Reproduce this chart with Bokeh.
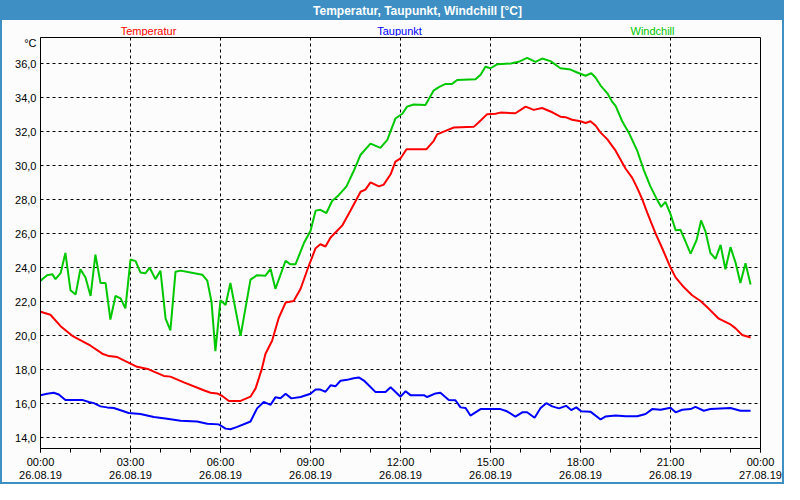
from bokeh.plotting import figure
from bokeh.layouts import column
from bokeh.models import FixedTicker, Range1d
from bokeh.core.properties import value
from bokeh.embed import file_html
from bokeh.resources import INLINE

# ---- data (hours since 26.08.19 00:00, °C) ----
temp_h = [0, 0.33, 0.67, 1.06, 1.67, 2.06, 2.28, 2.56, 3.0, 3.22, 3.61, 3.78, 4.11, 4.33, 4.78,
          5.44, 5.67, 5.89, 6.06, 6.28, 6.67, 7.0, 7.17, 7.37, 7.5, 7.72, 7.94, 8.17, 8.44, 8.67,
          8.94, 9.17, 9.33, 9.5, 9.67, 9.89, 10.06, 10.33, 10.67, 10.83, 11.0, 11.28, 11.44, 11.67,
          11.83, 12.0, 12.2, 12.86, 13.11, 13.22, 13.56, 13.78, 14.44, 14.61, 14.89, 15.17, 15.33,
          15.83, 16.17, 16.44, 16.72, 17.06, 17.33, 17.5, 17.72, 18.0, 18.17, 18.33, 18.5, 18.67,
          18.89, 19.17, 19.5, 19.72, 19.89, 20.06, 20.22, 20.5, 20.72, 21.0, 21.17, 21.44, 21.72,
          22.0, 22.28, 22.61, 23.0, 23.17, 23.39, 23.67]
temp_v = [21.41, 21.23, 20.56, 19.99, 19.41, 18.94, 18.80, 18.74, 18.36, 18.17, 18.02, 17.88, 17.63,
          17.59, 17.25, 16.79, 16.64, 16.60, 16.45, 16.16, 16.16, 16.41, 16.9, 18.0, 18.94, 19.70,
          21.04, 21.95, 22.04, 22.76, 24.10, 25.15, 25.38, 25.25, 25.78, 26.18, 26.49, 27.35, 28.47,
          28.60, 29.02, 28.79, 28.89, 29.50, 30.25, 30.43, 30.97, 30.97, 31.47, 31.85, 32.10, 32.25,
          32.29, 32.56, 33.04, 33.06, 33.13, 33.09, 33.48, 33.29, 33.40, 33.15, 32.89, 32.86, 32.71,
          32.62, 32.52, 32.62, 32.37, 31.95, 31.57, 30.89, 29.84, 29.30, 28.70, 28.02, 27.26, 26.02,
          25.16, 24.01, 23.43, 22.86, 22.38, 22.04, 21.58, 21.00, 20.66, 20.43, 20.04, 19.89]

dew_h = [0, 0.22, 0.44, 0.61, 0.83, 1.39, 1.61, 1.78, 2.0, 2.22, 2.44, 2.72, 2.94, 3.33, 3.78, 4.22,
         4.67, 5.22, 5.56, 5.94, 6.17, 6.33, 6.56, 7.0, 7.22, 7.44, 7.67, 7.83, 8.0, 8.17, 8.36, 8.67,
         9.0, 9.17, 9.33, 9.5, 9.67, 9.83, 10.0, 10.22, 10.44, 10.61, 10.78, 10.94, 11.17, 11.5, 11.67,
         12.0, 12.17, 12.33, 12.78, 12.89, 13.17, 13.33, 13.61, 13.83, 14.0, 14.17, 14.33, 14.67,
         15.33, 15.55, 15.83, 16.06, 16.22, 16.47, 16.67, 16.86, 17.06, 17.28, 17.52, 17.69, 17.86,
         18.02, 18.33, 18.67, 18.83, 19.17, 19.5, 19.89, 20.17, 20.39, 20.67, 21.0, 21.17, 21.39,
         21.67, 21.83, 22.11, 22.33, 23.0, 23.33, 23.67]
dew_v = [16.50, 16.58, 16.64, 16.54, 16.22, 16.22, 16.10, 16.03, 15.84, 15.78, 15.74, 15.58, 15.45,
         15.39, 15.21, 15.11, 14.99, 14.95, 14.82, 14.78, 14.53, 14.49, 14.63, 14.95, 15.72, 16.10,
         15.93, 16.37, 16.32, 16.58, 16.31, 16.39, 16.58, 16.83, 16.83, 16.70, 17.08, 17.02, 17.35,
         17.40, 17.50, 17.54, 17.36, 17.08, 16.68, 16.68, 16.96, 16.41, 16.73, 16.50, 16.50, 16.39,
         16.60, 16.64, 16.22, 16.20, 15.78, 15.74, 15.30, 15.68, 15.68, 15.55, 15.24, 15.49, 15.49,
         15.17, 15.74, 16.03, 15.84, 15.72, 15.87, 15.62, 15.78, 15.55, 15.53, 15.07, 15.24, 15.30,
         15.26, 15.26, 15.39, 15.68, 15.64, 15.76, 15.49, 15.64, 15.68, 15.81, 15.58, 15.68, 15.74,
         15.58, 15.58]

wind_h = [0, 0.22, 0.39, 0.5, 0.67, 0.83, 1.0, 1.17, 1.33, 1.5, 1.67, 1.83, 2.0, 2.17, 2.33, 2.5,
          2.67, 2.83, 3.0, 3.17, 3.33, 3.5, 3.64, 3.83, 4.0, 4.17, 4.33, 4.5, 4.67, 5.0, 5.39, 5.56,
          5.7, 5.83, 6.0, 6.17, 6.33, 6.67, 7.0, 7.22, 7.5, 7.67, 7.83, 8.17, 8.33, 8.5, 8.78, 9.0,
          9.17, 9.33, 9.53, 9.72, 9.94, 10.2, 10.44, 10.67, 11.0, 11.33, 11.56, 11.83, 12.06, 12.22,
          12.44, 12.83, 13.11, 13.28, 13.5, 13.72, 13.89, 14.5, 14.67, 14.83, 15.0, 15.22, 15.67,
          15.94, 16.22, 16.5, 16.72, 17.0, 17.33, 17.67, 17.89, 18.17, 18.36, 18.5, 18.67, 18.89,
          19.06, 19.17, 19.39, 19.61, 19.89, 20.11, 20.33, 20.56, 20.69, 20.83, 21.0, 21.17, 21.33,
          21.67, 21.87, 22.02, 22.17, 22.33, 22.5, 22.67, 22.83, 23.0, 23.17, 23.33, 23.5, 23.67]
wind_v = [23.24, 23.56, 23.62, 23.33, 23.68, 24.87, 22.67, 22.42, 23.91, 23.43, 22.34, 24.77, 23.10,
          23.10, 20.95, 22.34, 22.19, 21.61, 24.48, 24.39, 23.72, 23.68, 24.0, 23.33, 23.82, 21.0,
          20.31, 23.76, 23.83, 23.72, 23.59, 23.24, 22.0, 19.09, 22.09, 21.81, 23.10, 19.99, 23.30,
          23.56, 23.53, 23.93, 22.76, 24.41, 24.20, 24.20, 25.45, 26.16, 27.36, 27.41, 27.22, 27.93,
          28.27, 28.79, 29.69, 30.65, 31.30, 31.05, 31.52, 32.78, 33.06, 33.48, 33.61, 33.58, 34.44,
          34.63, 34.82, 34.82, 35.05, 35.09, 35.36, 35.83, 35.74, 35.97, 36.02, 36.12, 36.35, 36.12,
          36.31, 36.16, 35.74, 35.66, 35.49, 35.30, 35.45, 35.20, 34.72, 34.28, 33.76, 33.52, 32.62,
          31.95, 30.89, 29.75, 28.79, 27.98, 27.58, 27.87, 27.16, 26.21, 26.24, 24.83, 25.63, 26.78,
          26.11, 24.87, 24.52, 25.34, 23.91, 25.21, 24.29, 23.10, 24.26, 23.01]

x_ticks = [0, 3, 6, 9, 12, 15, 18, 21, 24]
x_tick_labels = ["00:00\n26.08.19", "03:00\n26.08.19", "06:00\n26.08.19", "09:00\n26.08.19",
                 "12:00\n26.08.19", "15:00\n26.08.19", "18:00\n26.08.19", "21:00\n26.08.19",
                 "00:00\n27.08.19"]
y_ticks = [14, 16, 18, 20, 22, 24, 26, 28, 30, 32, 34, 36]
y_tick_labels = ["14,0", "16,0", "18,0", "20,0", "22,0", "24,0", "26,0", "28,0", "30,0", "32,0",
                 "34,0", "36,0"]
unit_label = "°C"

title_text = "Temperatur, Taupunkt, Windchill [°C]"
series_names = ["Temperatur", "Taupunkt", "Windchill"]

# ---- styling ----
FONT = "Liberation Sans"
BAND = "#3d8fc4"
BG = "#fbfcfb"
RED = "#ff0000"
BLUE = "#0000ff"
GREEN = "#00c800"

W = 784
HEAD_H = 36          # header strip (title band + series names)
MAIN_H = 448         # main plot
TOP, BOTTOM, LEFT, RIGHT = 1, 35, 40, 24
FH = MAIN_H - TOP - BOTTOM
Y0, Y1 = 13.36, 37.55

# ---- header: title band and coloured series names (pixel coordinates) ----
head = figure(width=W, height=HEAD_H, output_backend="svg", toolbar_location=None,
              x_range=Range1d(LEFT, W - RIGHT), y_range=Range1d(HEAD_H, 0),
              x_axis_location=None, y_axis_location=None,
              min_border_left=LEFT, min_border_right=RIGHT, min_border_top=0, min_border_bottom=0)
head.grid.visible = False
head.outline_line_color = None
head.background_fill_alpha = 0
head.border_fill_alpha = 0
head.styles = {"background": f"linear-gradient(to bottom, {BAND} 0px, {BAND} 20px, transparent 20px)"}

head.text(x=[417], y=[10], text=[title_text], text_font=value(FONT), text_font_size="12px",
          text_font_style="bold", text_color="white", text_align="center", text_baseline="middle")
head.text(x=[148, 399, 652], y=[30, 30, 30], text=series_names, text_font=value(FONT),
          text_font_size="11px", text_color=[RED, BLUE, GREEN],
          text_align="center", text_baseline="middle")

# ---- main plot ----
p = figure(width=W, height=MAIN_H, output_backend="svg", toolbar_location=None,
           x_range=Range1d(0, 24), y_range=Range1d(Y0, Y1),
           min_border_left=LEFT, min_border_right=RIGHT,
           min_border_top=TOP, min_border_bottom=BOTTOM)
p.border_fill_alpha = 0
p.background_fill_color = BG
p.outline_line_color = "black"
p.outline_line_width = 1

xt = FixedTicker(ticks=x_ticks, minor_ticks=list(range(0, 25)))
p.xaxis.ticker = xt
p.xaxis.major_label_overrides = {t: l for t, l in zip(x_ticks, x_tick_labels)}
p.xaxis.major_tick_out = 4
p.xaxis.major_tick_in = 0
p.xaxis.minor_tick_out = 4
p.xaxis.minor_tick_in = 0
p.xaxis.major_label_standoff = 3
p.xaxis.major_label_text_line_height = 1.15

# unit label sits like a tick label just under the top of the frame
unit_tick = round(Y1 - 6 * (Y1 - Y0) / FH, 2)
yt = FixedTicker(ticks=y_ticks, minor_ticks=[])
p.yaxis.ticker = FixedTicker(ticks=y_ticks + [unit_tick], minor_ticks=[])
overrides = {t: l for t, l in zip(y_ticks, y_tick_labels)}
overrides[unit_tick] = unit_label
p.yaxis.major_label_overrides = overrides
p.yaxis.major_tick_out = 0
p.yaxis.major_tick_in = 0
p.yaxis.minor_tick_out = 0
p.yaxis.minor_tick_in = 0
p.yaxis.major_label_standoff = 4

for ax in (p.xaxis, p.yaxis):
    ax.axis_line_color = "black"
    ax.major_tick_line_color = "black"
    ax.minor_tick_line_color = "black"
    ax.major_label_text_font = FONT
    ax.major_label_text_font_size = "11px"
    ax.major_label_text_color = "#000000"

p.xgrid.ticker = xt
p.ygrid.ticker = yt
for g in (p.xgrid, p.ygrid):
    g.grid_line_color = "black"
    g.grid_line_dash = "3 3"
    g.grid_line_width = 1

p.line(temp_h, temp_v, line_color=RED, line_width=2)
p.line(dew_h, dew_v, line_color=BLUE, line_width=2)
p.line(wind_h, wind_v, line_color=GREEN, line_width=2)

layout = column(head, p, spacing=0,
                styles={"background": BG, "box-shadow": f"inset 0 0 0 2px {BAND}"})

open("out.html", "w").write(file_html(layout, INLINE))
